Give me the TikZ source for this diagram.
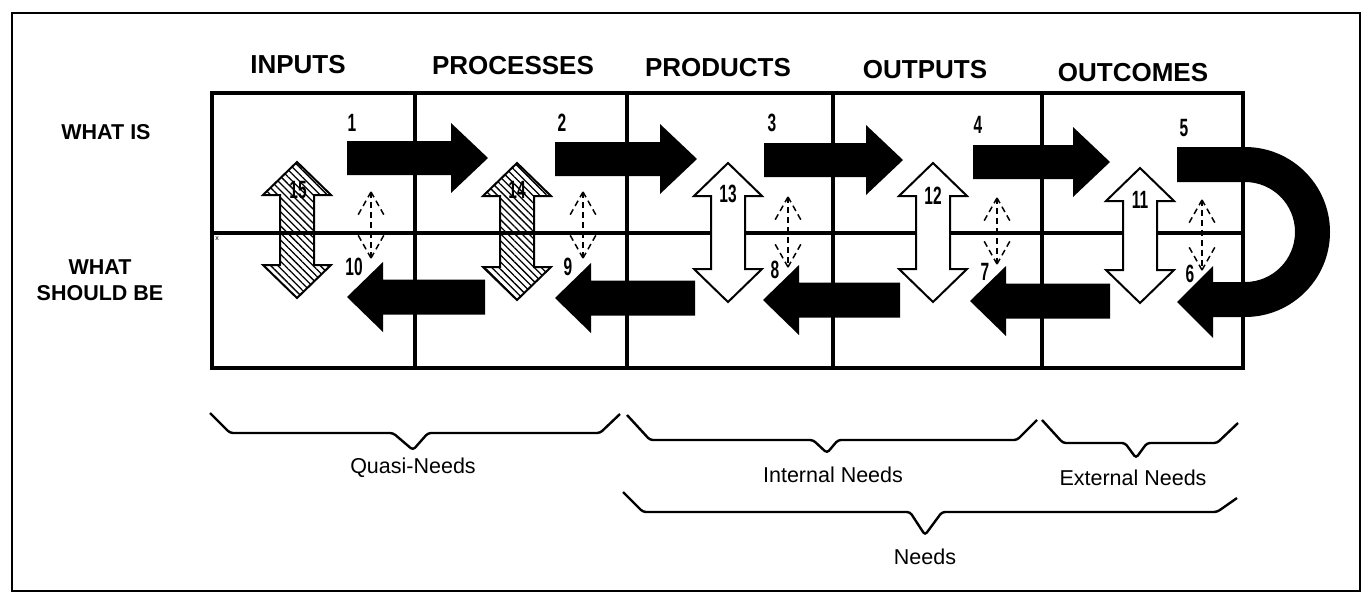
\documentclass[tikz,border=0pt]{standalone}
\usepackage{fontspec}
\setmainfont{Liberation Sans}
\newfontfamily\numfont{Liberation Sans}[FakeStretch=0.62]
\usetikzlibrary{patterns.meta}
\newcommand\RArr[3]{% tail x, tip x, centre y
  \fill[black] (#1,#3-17) -- (#2-37,#3-17) -- (#2-37,#3-35) -- (#2,#3) -- (#2-37,#3+35) -- (#2-37,#3+17) -- (#1,#3+17) -- cycle;}
\newcommand\LArr[3]{% tip x, tail x, centre y
  \fill[black] (#2,#3-17.5) -- (#1+36,#3-17.5) -- (#1+36,#3-35) -- (#1,#3) -- (#1+36,#3+35) -- (#1+36,#3+17.5) -- (#2,#3+17.5) -- cycle;}
\newcommand\VArr[4]{% style, centre x, top y, bottom y
  \path[#1] (#2,#3) -- (#2+34,#3+33) -- (#2+17,#3+33) -- (#2+17,#4-33) -- (#2+34,#4-33) -- (#2,#4) -- (#2-34,#4-33) -- (#2-17,#4-33) -- (#2-17,#3+33) -- (#2-34,#3+33) -- cycle;}
\newcommand\DArr[3]{% x, top, bottom
  \draw[dasharr] (#1,#2) -- (#1,#3);
  \draw[dasharr] (#1,#2) -- (#1-13,#2+23);
  \draw[dasharr] (#1,#2) -- (#1+13,#2+23);
  \draw[dasharr] (#1,#3) -- (#1-13,#3-23);
  \draw[dasharr] (#1,#3) -- (#1+13,#3-23);}
\begin{document}
\begin{tikzpicture}[x=1pt,y=-1pt,
  colhead/.style={font=\fontsize{26}{30}\selectfont\bfseries},
  rowhead/.style={font=\fontsize{21.5}{26}\selectfont\bfseries, align=center},
  brlab/.style={font=\fontsize{21.5}{24}\selectfont},
  num/.style={font=\numfont\bfseries\fontsize{25}{25}\selectfont, inner sep=0pt},
  hatched/.style={draw=black, line width=2, pattern={Lines[angle=-45,distance=5pt,line width=1.3pt]}},
  hollow/.style={draw=black, line width=2, fill=white},
  gridline/.style={line width=4},
  dasharr/.style={line width=1.5, dash pattern=on 6pt off 4pt, line cap=butt},
  bracepath/.style={line width=2.4, rounded corners=3pt}]
\useasboundingbox (0,0) rectangle (1368,603);
% outer frame
\draw[line width=2.5] (12,13) rectangle (1360,591);
% column headings
\node[colhead] (hin)  at (298,65) {INPUTS};
\node[colhead] (hpr)  at (513,66) {PROCESSES};
\node[colhead] (hpd)  at (718,68) {PRODUCTS};
\node[colhead] (hou)  at (925,70) {OUTPUTS};
\node[colhead] (hoc)  at (1133,73) {OUTCOMES};
% row headings
\node[rowhead] (wis) at (106,132) {WHAT IS};
\node[rowhead] (wsb) at (100,280) {WHAT\\SHOULD BE};
% grid
\draw[gridline] (212,93) rectangle (1243,368);
\draw[gridline] (212,233) -- (1243,233);
\foreach \cx in {415,627,833,1042} \draw[gridline] (\cx,93) -- (\cx,368);
\node[font=\fontsize{7}{7}\selectfont, inner sep=0pt] (xm) at (217,239) {x};
% right arrows (what is)
\RArr{347}{488}{158}
\RArr{555}{697}{159}
\RArr{764}{903}{160}
\RArr{973}{1110}{162}
% U-turn arrow 5 -> 6
\fill[black] (1177,147) -- (1245,147) arc[start angle=90, end angle=-90, radius=85pt]
  -- (1213,317) -- (1213,338) -- (1177,302) -- (1213,266) -- (1213,282) -- (1245,282)
  arc[start angle=-90, end angle=90, radius=50pt] -- (1177,182) -- cycle;
% left arrows (what should be)
\LArr{347}{485}{297}
\LArr{555}{695}{298}
\LArr{763}{900}{300}
\LArr{970}{1110}{301}
% vertical double arrows
\VArr{hatched}{297}{162}{298}
\VArr{hatched}{517}{163}{300}
\VArr{hollow}{728}{163}{302}
\VArr{hollow}{933}{163}{302}
\VArr{hollow}{1140}{168}{303}
% dashed double arrows
\DArr{371}{192}{258}
\DArr{583}{192}{258}
\DArr{788}{197}{267}
\DArr{997}{198}{264}
\DArr{1202}{200}{270}
% numbers
\node[num] (n1) at (352,123) {1};
\node[num] (n2) at (562,123) {2};
\node[num] (n3) at (772,123) {3};
\node[num] (n4) at (978,125) {4};
\node[num] (n5) at (1184,128) {5};
\node[num] (n6) at (1190,274) {6};
\node[num] (n7) at (985,272) {7};
\node[num] (n8) at (775,270) {8};
\node[num] (n9) at (568,267) {9};
\node[num] (n10) at (354,267) {10};
\node[num] (n11) at (1140,200) {11};
\node[num] (n12) at (933,196) {12};
\node[num] (n13) at (728,194) {13};
\node[num] (n14) at (517,190) {14};
\node[num] (n15) at (298,190) {15};
% braces
\draw[bracepath] (210,413) -- (230,433) -- (393,433) -- (413,450) -- (428,433) -- (600,433) -- (620,414);
\draw[bracepath] (627,415) -- (650,440) -- (813,440) -- (827,453) -- (838,440) -- (1017,440) -- (1037,420);
\draw[bracepath] (1042,420) -- (1063,443) -- (1125,443) -- (1136,458) -- (1147,443) -- (1217,443) -- (1238,423);
\draw[bracepath] (623,492) -- (643,512) -- (910,512) -- (925,535) -- (942,512) -- (1217,512) -- (1237,498);
\node[brlab] (lq) at (413,468) {Quasi-Needs};
\node[brlab] (li) at (833,475) {Internal Needs};
\node[brlab] (le) at (1133,478) {External Needs};
\node[brlab] (ln) at (925,557) {Needs};
\end{tikzpicture}
\end{document}
